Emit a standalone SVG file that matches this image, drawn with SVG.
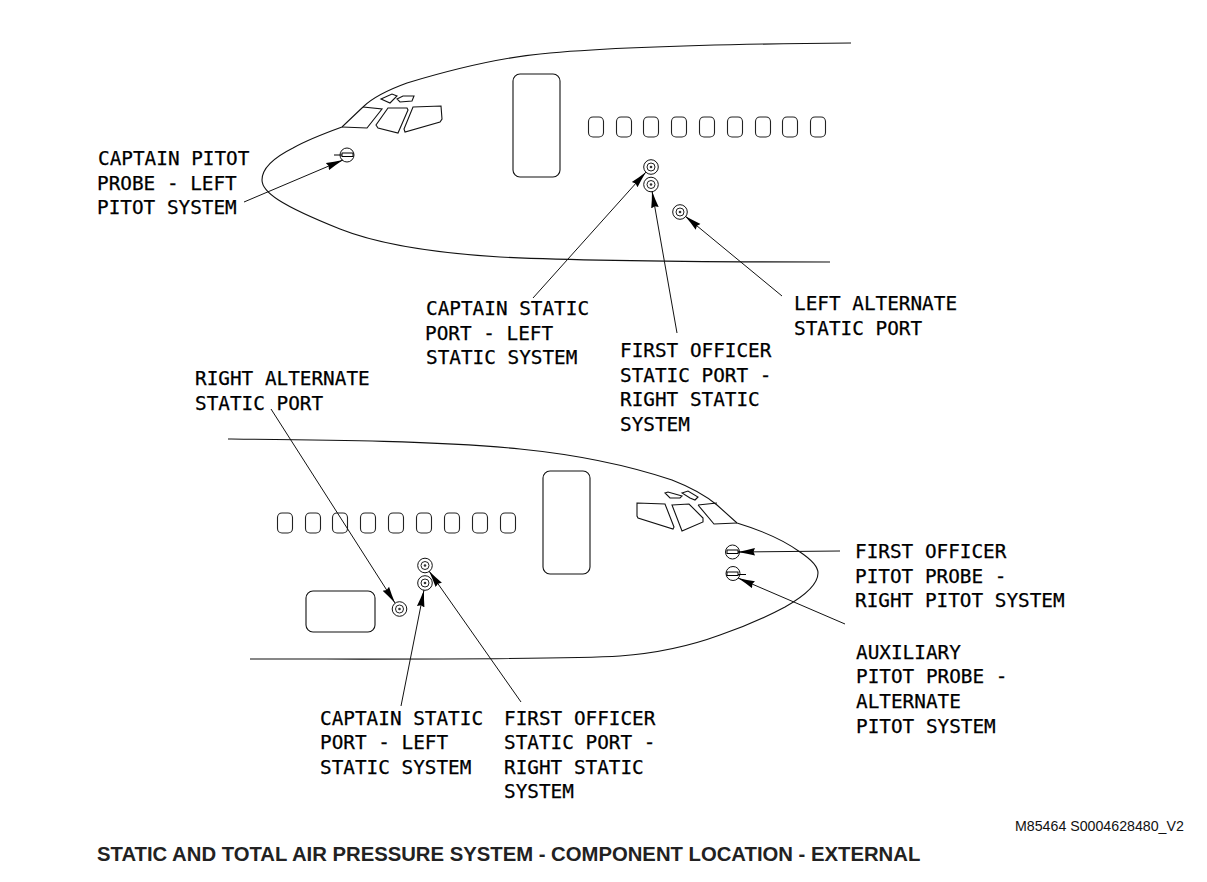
<svg xmlns="http://www.w3.org/2000/svg" width="1207" height="882" viewBox="0 0 1207 882">
<style>
.l{fill:none;stroke:#111;stroke-width:1.1}
.c{fill:none;stroke:#111;stroke-width:1;marker-end:url(#a)}
.t{font-family:"DejaVu Sans Mono",monospace;font-size:19.35px;fill:#000;stroke:#000;stroke-width:.25}
.h{font-family:"Liberation Sans",Arial,sans-serif;font-weight:bold;font-size:20.3px;fill:#222}
.m{font-family:"Liberation Sans",Arial,sans-serif;font-size:14.2px;fill:#111}
</style>
<defs>
<marker id="a" markerUnits="userSpaceOnUse" markerWidth="20" markerHeight="10" refX="17" refY="5" orient="auto"><path d="M0 1.200L1.500 5L0 8.800L8 6.800L17 5L8 3.200Z" fill="#000"/></marker>
<g id="port"><circle r="7.300" fill="#fff" stroke="#111" stroke-width="1"/><circle r="4" fill="none" stroke="#222" stroke-width="1"/><circle r="1.300" fill="#333"/></g>
<g id="win"><rect x="-7.500" y="-10" width="15" height="20" rx="4.500" fill="none" stroke="#222" stroke-width="1.100"/></g>
</defs>
<rect width="1207" height="882" fill="#fff"/>
<g id="aircraft-left">
<path class="l" d="M851 43C720 44 620 47 550 53C500 57 450 70 407 83C385 91 372 98 363 107L342 127C320 135 300 144 293 148C275 157 262 168 262 180C262 192 280 205 340 229C370 241 420 252 500 257C560 260 700 262 830 262"/>
<path class="l" d="M363 107L382 109L367 128L342 127"/>
<path class="l" d="M388 108L407 108L408 110L398 133L378 128L376 125Z"/>
<path class="l" d="M413 107L441 106L442 119L440 122L405 132L404 129Z"/>
<path class="l" d="M381 99L392 94L397 96L390 103Z"/>
<path class="l" d="M397 99L403 96L414 96L412 101L400 102Z"/>
<rect class="l" x="513" y="74" width="47" height="103" rx="7"/>
<use href="#win" x="596" y="127"/><use href="#win" x="624" y="127"/><use href="#win" x="651" y="127"/><use href="#win" x="679" y="127"/><use href="#win" x="707" y="127"/><use href="#win" x="735" y="127"/><use href="#win" x="763" y="127"/><use href="#win" x="790" y="127"/><use href="#win" x="818" y="127"/>
</g>
<g id="aircraft-right">
<path class="l" d="M228 439C330 440 440 441 520 449C580 455 630 466 672 480C690 487 705 495 717 505L737 523C760 530 785 541 800 552C812 560 818 567 818 573C818 582 808 594 785 607C770 615 750 625 720 635C690 646 660 653 620 656C560 660 400 659 250 659"/>
<path class="l" d="M698 505L717 503M737 523L714 524L698 505"/>
<path class="l" d="M672 505L689 504L703 518L703 522L682 531Z"/>
<path class="l" d="M637 503L665 504L674 527L673 529L638 518L637 516Z"/>
<path class="l" d="M665 493L668 492L682 496L680 498L670 498Z"/>
<path class="l" d="M682 493L688 491L698 497L695 500L690 498Z"/>
<rect class="l" x="543" y="471" width="47" height="103" rx="7"/>
<rect class="l" x="306" y="591" width="69" height="41" rx="7"/>
<use href="#win" x="285" y="523"/><use href="#win" x="313" y="523"/><use href="#win" x="340" y="523"/><use href="#win" x="368" y="523"/><use href="#win" x="396" y="523"/><use href="#win" x="424" y="523"/><use href="#win" x="452" y="523"/><use href="#win" x="480" y="523"/><use href="#win" x="508" y="523"/>
</g>
<g id="connectors">
<path class="c" d="M244 202L343 160"/>
<path class="c" d="M533 298L646 172"/>
<path class="c" d="M677 333L652 191"/>
<path class="c" d="M782 296L685 216"/>
<path class="c" d="M271 409L395 603"/>
<path class="c" d="M401 706L424 590"/>
<path class="c" d="M521 702L429 571"/>
<path class="c" d="M840 551L738 552"/>
<path class="c" d="M845 624L738 578"/>
</g>
<g id="probe-captain-left"><circle cx="347" cy="155" r="7" fill="none" stroke="#111"/><path d="M334 155H353" stroke="#000"/><rect x="342" y="153" width="11" height="3.500" fill="#fff" stroke="#000"/></g>
<g id="port-captain-left"><use href="#port" x="651" y="167"/></g>
<g id="port-fo-left"><use href="#port" x="651" y="184.500"/></g>
<g id="port-alt-left"><use href="#port" x="680" y="212"/></g>
<g id="port-alt-right"><use href="#port" x="399.500" y="609"/></g>
<g id="port-captain-right"><use href="#port" x="425" y="565.500"/></g>
<g id="port-fo-right"><use href="#port" x="425" y="583"/></g>
<g id="probe-fo-right"><circle cx="732.500" cy="552" r="7" fill="none" stroke="#111"/><path d="M727 552H740" stroke="#000"/><rect x="727" y="550" width="11" height="3.500" fill="#fff" stroke="#000"/></g>
<g id="probe-aux-right"><circle cx="733" cy="573.500" r="7" fill="none" stroke="#111"/><path d="M727 574.500H746" stroke="#000"/><rect x="727" y="572" width="11" height="3.500" fill="#fff" stroke="#000"/></g>
<g id="labels">
<text class="t" x="98" y="165">CAPTAIN PITOT</text><text class="t" x="97" y="190">PROBE - LEFT</text><text class="t" x="97" y="214">PITOT SYSTEM</text>
<text class="t" x="426" y="315">CAPTAIN STATIC</text><text class="t" x="425" y="340">PORT - LEFT</text><text class="t" x="426" y="364">STATIC SYSTEM</text>
<text class="t" x="794" y="310">LEFT ALTERNATE</text><text class="t" x="794" y="335">STATIC PORT</text>
<text class="t" x="620" y="357">FIRST OFFICER</text><text class="t" x="620" y="382">STATIC PORT -</text><text class="t" x="620" y="406">RIGHT STATIC</text><text class="t" x="620" y="431">SYSTEM</text>
<text class="t" x="195" y="385">RIGHT ALTERNATE</text><text class="t" x="195" y="410">STATIC PORT</text>
<text class="t" x="855" y="558">FIRST OFFICER</text><text class="t" x="855" y="583">PITOT PROBE -</text><text class="t" x="855" y="607">RIGHT PITOT SYSTEM</text>
<text class="t" x="856" y="659">AUXILIARY</text><text class="t" x="856" y="683">PITOT PROBE -</text><text class="t" x="856" y="708">ALTERNATE</text><text class="t" x="856" y="733">PITOT SYSTEM</text>
<text class="t" x="320" y="725">CAPTAIN STATIC</text><text class="t" x="320" y="749">PORT - LEFT</text><text class="t" x="320" y="774">STATIC SYSTEM</text>
<text class="t" x="504" y="725">FIRST OFFICER</text><text class="t" x="504" y="749">STATIC PORT -</text><text class="t" x="504" y="774">RIGHT STATIC</text><text class="t" x="504" y="798">SYSTEM</text>
<text class="m" x="1015" y="831">M85464 S0004628480_V2</text>
<text class="h" x="97" y="861">STATIC AND TOTAL AIR PRESSURE SYSTEM - COMPONENT LOCATION - EXTERNAL</text>
</g>
</svg>
